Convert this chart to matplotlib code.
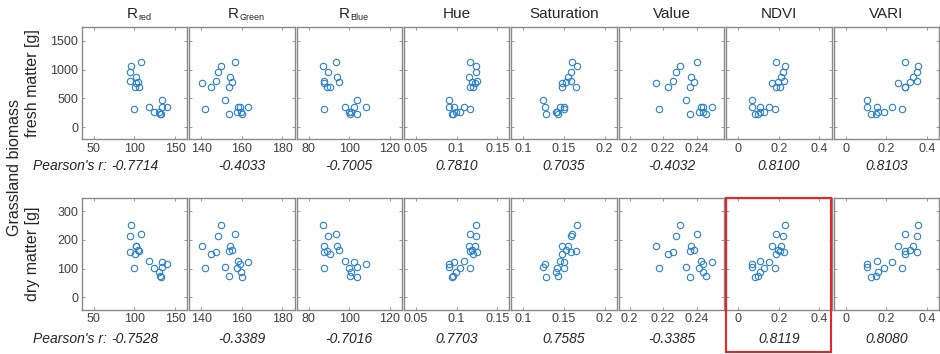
import matplotlib
matplotlib.use("Agg")
import matplotlib.pyplot as plt
from matplotlib.patches import Rectangle

plt.rcParams["font.family"] = ["Liberation Sans", "DejaVu Sans"]

# Grassland biomass per plot
fresh_matter = [1125, 1067, 963, 877, 807, 783, 773, 703, 692, 473, 358, 346, 346, 311, 271, 265, 230, 230]
dry_matter = [221, 252, 215, 180, 159, 165, 180, 163, 150, 105, 115, 127, 124, 101, 103, 89, 74, 70]

# Image features per plot
r_red = [108.4, 95.4, 95.0, 102.1, 94.1, 104.6, 101.3, 105.5, 100.4, 134.0, 140.3, 118.5, 134.0, 100.0, 124.3, 130.2, 131.9, 132.7]
r_green = [156.4, 149.8, 148.3, 154.2, 147.3, 155.2, 140.4, 153.6, 144.9, 151.9, 159.2, 158.0, 162.8, 141.7, 157.5, 159.7, 153.6, 160.3]
r_blue = [93.3, 86.9, 89.4, 94.1, 87.7, 95.1, 87.7, 88.9, 90.5, 104.0, 108.3, 97.9, 102.4, 87.7, 100.1, 101.1, 100.6, 104.0]
hue = [0.1159, 0.1241, 0.1241, 0.1147, 0.1250, 0.1188, 0.1229, 0.1159, 0.1196, 0.0911, 0.0911, 0.1093, 0.0969, 0.1167, 0.1043, 0.0986, 0.0961, 0.0948]
saturation = [0.1593, 0.1655, 0.1580, 0.1547, 0.1589, 0.1527, 0.1477, 0.1651, 0.1477, 0.1238, 0.1263, 0.1448, 0.1498, 0.1498, 0.1415, 0.1403, 0.1428, 0.1280]
value = [0.2400, 0.2304, 0.2278, 0.2368, 0.2262, 0.2384, 0.2158, 0.2358, 0.2229, 0.2334, 0.2440, 0.2424, 0.2494, 0.2178, 0.2414, 0.2440, 0.2456, 0.2360]
ndvi = [0.1868, 0.2313, 0.2214, 0.2115, 0.2263, 0.1934, 0.1687, 0.2066, 0.1850, 0.0700, 0.0680, 0.1062, 0.1523, 0.1803, 0.1276, 0.1078, 0.0996, 0.0830]
vari = [0.2916, 0.3560, 0.3494, 0.3296, 0.3494, 0.3164, 0.2586, 0.2900, 0.2900, 0.1067, 0.1067, 0.1546, 0.2305, 0.2768, 0.1909, 0.1596, 0.1497, 0.1265]

# Titles: (main text, subscript)
feature_titles = [("R", "red"), ("R", "Green"), ("R", "Blue"), ("Hue", ""), ("Saturation", ""),
                  ("Value", ""), ("NDVI", ""), ("VARI", "")]
features = [r_red, r_green, r_blue, hue, saturation, value, ndvi, vari]

x_ticks = [[50, 100, 150], [140, 160, 180], [80, 100, 120], [0.05, 0.1, 0.15],
           [0.1, 0.15, 0.2], [0.2, 0.22, 0.24], [0, 0.2, 0.4], [0, 0.2, 0.4]]
x_tick_labels = [["50", "100", "150"], ["140", "160", "180"], ["80", "100", "120"],
                 ["0.05", "0.1", "0.15"], ["0.1", "0.15", "0.2"], ["0.2", "0.22", "0.24"],
                 ["0", "0.2", "0.4"], ["0", "0.2", "0.4"]]
x_limits = [(35, 165), (134, 186), (74, 126), (0.035, 0.165), (0.085, 0.215),
            (0.1935, 0.2565), (-0.06, 0.46), (-0.06, 0.46)]

r_fresh = ["-0.7714", "-0.4033", "-0.7005", "0.7810", "0.7035", "-0.4032", "0.8100", "0.8103"]
r_dry = ["-0.7528", "-0.3389", "-0.7016", "0.7703", "0.7585", "-0.3385", "0.8119", "0.8080"]

rows = [
    dict(y=fresh_matter, yticks=[0, 500, 1000, 1500], ylim=(-208, 1742), r=r_fresh,
         label="fresh matter [g]"),
    dict(y=dry_matter, yticks=[0, 100, 200, 300], ylim=(-44, 345), r=r_dry,
         label="dry matter [g]"),
]

W, H = 940, 354
fig = plt.figure(figsize=(W / 100, H / 100), dpi=100)
renderer = fig.canvas.get_renderer()

marker_color = "#2a7fcc"
frame_color = "#8a8a8a"
text_color = "#262626"
tick_color = "#404040"

left0, step, width = 81.7, 107.4, 105.5
row_top = [26.7, 198.3]
row_h = [112.6, 111.7]
r_text_y = [166.5, 339.0]
title_base = 18.0


def px(x, y):
    """Pixel position (from top-left) to figure fraction."""
    return x / W, (H - y) / H


for ri, row in enumerate(rows):
    for ci, feat in enumerate(features):
        lx = left0 + ci * step
        ax = fig.add_axes([lx / W, (H - row_top[ri] - row_h[ri]) / H, width / W, row_h[ri] / H])
        ax.plot(feat, row["y"], linestyle="none", marker="o", markersize=4.6,
                markerfacecolor="none", markeredgecolor=marker_color, markeredgewidth=0.8)
        ax.set_xlim(*x_limits[ci])
        ax.set_ylim(*row["ylim"])
        ax.set_xticks(x_ticks[ci])
        ax.set_xticklabels(x_tick_labels[ci])
        ax.set_yticks(row["yticks"])
        if ci == 0:
            ax.set_yticklabels([str(t) for t in row["yticks"]])
        else:
            ax.set_yticklabels([])
        ax.tick_params(direction="in", length=2.5, width=0.6, top=True, right=True,
                       colors=frame_color, labelcolor=tick_color, labelsize=9, pad=2.5)
        for sp in ax.spines.values():
            sp.set_color(frame_color)
            sp.set_linewidth(1.0)

        cx = lx + width / 2
        if ri == 0:
            main, sub = feature_titles[ci]
            if sub:
                sub_t = fig.text(0, 0, sub, fontsize=6.5, color=text_color, ha="left", va="baseline")
                w_sub = sub_t.get_window_extent(renderer).width
                main_t = fig.text(0, 0, main, fontsize=11, color=text_color, ha="right", va="baseline")
                w_main = main_t.get_window_extent(renderer).width
                split = cx + 4 + (w_main - w_sub) / 2
                main_t.set_position(px(split, title_base))
                sub_t.set_position(px(split + 0.5, title_base + 2.5))
            else:
                fig.text(*px(cx, title_base), main, ha="center", va="baseline",
                         fontsize=11, color=text_color)
        val = fig.text(*px(cx, r_text_y[ri]), row["r"][ci], ha="center", va="center",
                       fontsize=10, style="italic", color=text_color)
        if ci == 0:
            ax.annotate("Pearson's r: ", xy=(0, 0.5), xycoords=val, ha="right", va="center",
                        fontsize=10, style="italic", color=text_color, annotation_clip=False)

    fig.text(*px(32, row_top[ri] + row_h[ri] / 2), row["label"], rotation=90,
             ha="center", va="center", fontsize=11.5, color=text_color)

fig.text(*px(15, 167), "Grassland biomass", rotation=90, ha="center", va="center",
         fontsize=11.5, color=text_color)

# Highlight the NDVI / dry matter panel
fig.patches.append(Rectangle(px(726, 352), 105 / W, 154 / H, transform=fig.transFigure,
                             fill=False, edgecolor="#e8262a", linewidth=1.5, figure=fig))

fig.savefig("out.png", dpi=100)
